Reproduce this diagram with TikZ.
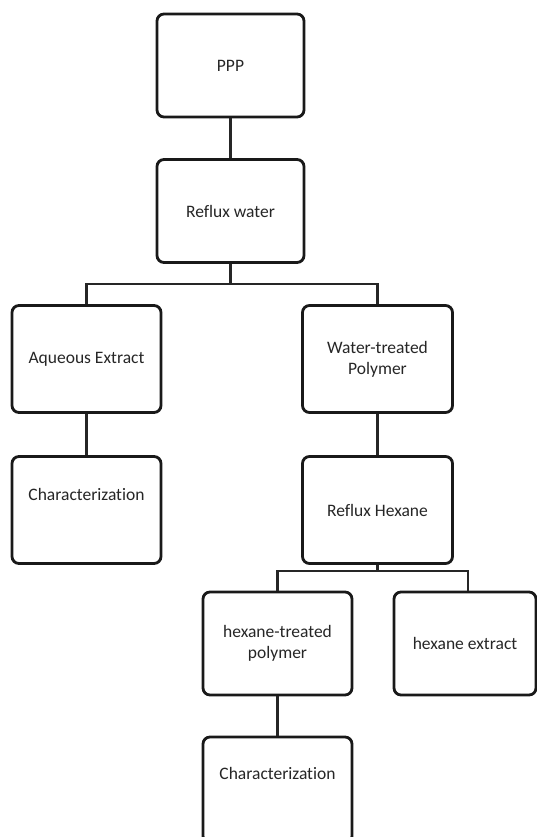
\documentclass[tikz,border=0pt]{standalone}
\usepackage{fontspec}
\setmainfont{Carlito}[Ligatures={NoCommon}]
\begin{document}
\begin{tikzpicture}[x=1pt,y=-1pt,
  boxst/.style={draw=black!90, line width=2.8pt, rounded corners=7pt, fill=white,
    minimum width=147pt, minimum height=103pt, inner sep=0pt},
  txt/.style={text=black!85, align=center, font=\fontsize{17.5}{21}\selectfont, inner sep=0pt},
  conn/.style={draw=black!85, line width=2.4pt}]
\useasboundingbox (0,0) rectangle (537,837);
\clip (0,0) rectangle (537,837);
% boxes
\node[boxst] (ppp) at (230.5,65.5) {};
\node[txt] (ppptx) at (ppp.center) {PPP};
\node[boxst] (reflux) at (230.5,211) {};
\node[txt] (refluxtx) at (reflux.center) {Reflux water};
\node[boxst, minimum width=149pt, minimum height=107pt] (aq) at (86.5,359) {};
\node[txt] (aqtx) at (aq.center) {Aqueous Extract};
\node[boxst, minimum width=150pt, minimum height=107pt] (wt) at (377.5,359) {};
\node[txt] (wttx) at (wt.center) {Water-treated\\Polymer};
\node[boxst, minimum width=149pt, minimum height=107pt] (char1) at (86.5,510) {};
\node[txt] (char1tx) at (86.5,494) {Characterization};
\node[boxst, minimum width=150pt, minimum height=107pt] (rh) at (377.5,510) {};
\node[txt] (rhtx) at (rh.center) {Reflux Hexane};
\node[boxst, minimum width=149pt, minimum height=103pt] (ht) at (277.5,643.5) {};
\node[txt] (httx) at (ht.center) {hexane-treated\\polymer};
\node[boxst, minimum width=142pt, minimum height=103pt] (he) at (465,643.5) {};
\node[txt] (hetx) at (he.center) {hexane extract};
\node[boxst, minimum width=149pt, minimum height=106pt] (char2) at (277.5,790) {};
\node[txt] (char2tx) at (277.5,773) {Characterization};
% connectors
\coordinate (bus1) at (230.5,284);
\coordinate (bus2) at (377.5,571);
\draw[conn] (ppp.south) -- (reflux.north);
\draw[conn] (reflux.south) -- (bus1);
\draw[conn] (aq.north) |- (bus1) -| (wt.north);
\draw[conn] (aq.south) -- (char1.north);
\draw[conn] (wt.south) -- (rh.north);
\draw[conn] (rh.south) -- (bus2);
\draw[conn] (ht.north) |- (bus2) -| ([xshift=3pt]he.north);
\draw[conn] (ht.south) -- (char2.north);
\end{tikzpicture}
\end{document}
